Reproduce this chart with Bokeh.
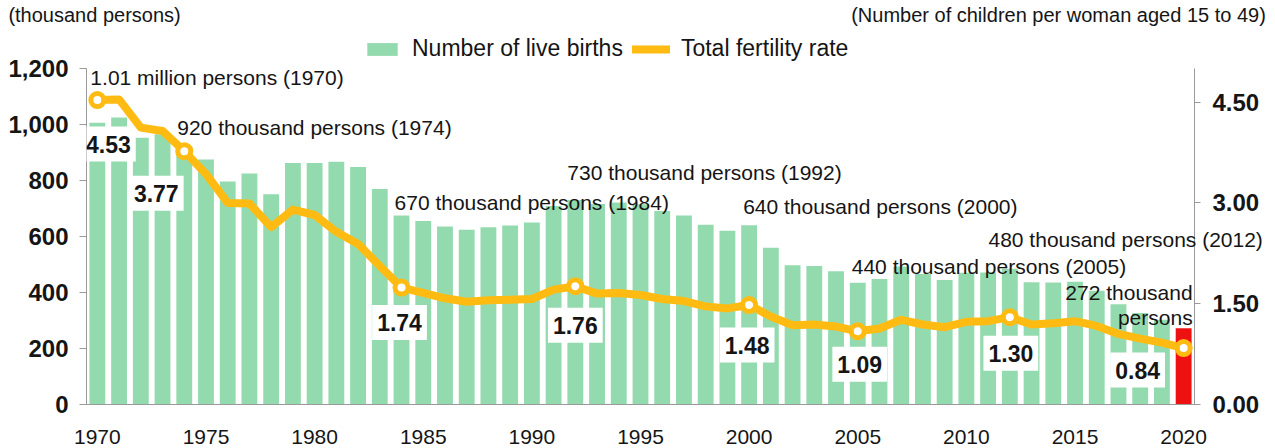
from bokeh.plotting import figure
from bokeh.models import (Range1d, LinearAxis, FixedTicker, NumeralTickFormatter,
                          Label, Legend, LegendItem, ColumnDataSource)
from bokeh.embed import file_html
from bokeh.resources import INLINE

# ---------------- data ----------------
years = list(range(1970, 2021))
births = [1006.6, 1024.8, 952.8, 965.5, 922.8, 874.9, 796.3, 825.3, 750.7, 862.7,
          862.8, 867.4, 848.3, 769.2, 674.8, 655.5, 636.0, 623.8, 633.1, 639.4,
          649.7, 709.3, 730.7, 715.8, 721.2, 715.0, 691.2, 675.4, 641.6, 620.7,
          640.1, 559.9, 496.9, 495.0, 476.0, 435.0, 448.2, 493.2, 465.9, 444.8,
          470.2, 471.3, 484.6, 436.5, 435.4, 438.4, 406.2, 357.8, 326.8, 302.7, 272.3]
tfr = [4.53, 4.54, 4.12, 4.07, 3.77, 3.43, 3.00, 2.99, 2.64, 2.90,
       2.82, 2.57, 2.39, 2.06, 1.74, 1.66, 1.58, 1.53, 1.55, 1.56,
       1.57, 1.71, 1.76, 1.65, 1.66, 1.63, 1.57, 1.54, 1.46, 1.43,
       1.48, 1.31, 1.18, 1.19, 1.16, 1.09, 1.13, 1.26, 1.19, 1.15,
       1.23, 1.24, 1.30, 1.19, 1.21, 1.24, 1.17, 1.05, 0.98, 0.92, 0.84]
highlight_years = [1970, 1974, 1984, 1992, 2000, 2005, 2012, 2020]
latest_year = 2020

left_max, right_max = 1200, 5
left_ticks = [0, 200, 400, 600, 800, 1000, 1200]
right_ticks = [0.0, 1.5, 3.0, 4.5]
x_ticks = list(range(1970, 2021, 5))

birth_notes = [
    ("1.01 million persons (1970)", 1970),
    ("920 thousand persons (1974)", 1974),
    ("670 thousand persons (1984)", 1984),
    ("730 thousand persons (1992)", 1992),
    ("640 thousand persons (2000)", 2000),
    ("440 thousand persons (2005)", 2005),
]
edge_note = "480 thousand persons (2012)"
left_title = "(thousand persons)"
right_title = "(Number of children per woman aged 15 to 49)"

# ---------------- styling / placement (not data) ----------------
GREEN = "#93DBAE"
RED = "#EE1111"
ORANGE = "#FFBB11"
TXT = "#151515"
AXC = "#9a9a9a"
FONT = "Liberation Sans"

FRAME_W, FRAME_H, AXIS_PX = 1108, 368, 336
head = FRAME_H / AXIS_PX            # frame reaches above the axes (room for legend)

# (x offset px, y in left-axis units)
note_pos = {1970: (-7, 1168), 1974: (-7, 989), 1984: (-7, 721), 1992: (-8, 829),
            2000: (-6, 707), 2005: (-6, 493)}
edge_note_y = 589
box_off = {1970: (11, -44), 1974: (-28, -42), 1984: (-2, -35), 1992: (0, -39),
           2000: (-2, -40), 2005: (2, -33), 2012: (1, -36), 2020: (-46, -22)}
title_x = (1969.87, 2014.24)        # centres of the two unit captions (x-scale)

p = figure(frame_width=FRAME_W, frame_height=FRAME_H, x_range=Range1d(1969.5, 2020.5),
           y_range=Range1d(0, left_max * head), output_backend="svg",
           toolbar_location=None, min_border_left=86, min_border_right=81,
           min_border_top=0, min_border_bottom=42)
p.extra_y_ranges = {"tfr": Range1d(0, right_max * head)}
p.outline_line_color = None
p.grid.visible = False
p.background_fill_color = "white"

# bars
normal = [(y, b) for y, b in zip(years, births) if y != latest_year]
last = [(y, b) for y, b in zip(years, births) if y == latest_year]
src_g = ColumnDataSource(dict(x=[a for a, _ in normal], top=[b for _, b in normal]))
src_r = ColumnDataSource(dict(x=[a for a, _ in last], top=[b for _, b in last]))
bars_g = p.vbar(x="x", top="top", width=0.73, source=src_g, fill_color=GREEN, line_color=None)
p.vbar(x="x", top="top", width=0.73, source=src_r, fill_color=RED, line_color=None)

# value boxes
for yr in highlight_years:
    i = years.index(yr)
    dx, dy = box_off[yr]
    p.add_layout(Label(x=yr, y=tfr[i], y_range_name="tfr", x_offset=dx, y_offset=dy,
                       text=f"{tfr[i]:.2f}", text_align="center", text_baseline="middle",
                       text_font=FONT, text_font_style="bold", text_font_size="23px",
                       text_color=TXT, background_fill_color="white",
                       padding=(5, 9)))

# TFR line
line_r = p.line(years, tfr, y_range_name="tfr", line_color=ORANGE, line_width=8,
                line_join="round", line_cap="round")
line_r.level = "overlay"
hx = highlight_years
hy = [tfr[years.index(y)] for y in hx]
mk = p.scatter(hx, hy, y_range_name="tfr", size=13, fill_color="white",
               line_color=ORANGE, line_width=5)
mk.level = "overlay"

# birth annotations
for text, yr in birth_notes:
    dx, yv = note_pos[yr]
    p.add_layout(Label(x=yr, y=yv, x_offset=dx, text=text, text_align="left",
                       text_baseline="middle", text_font=FONT, text_font_size="21px",
                       text_color=TXT))
i_last = years.index(latest_year)
p.add_layout(Label(x=latest_year, y=400, x_offset=9,
                   text=f"{int(round(births[i_last]))} thousand", text_align="right",
                   text_baseline="middle", text_font=FONT, text_font_size="21px",
                   text_color=TXT))
p.add_layout(Label(x=latest_year, y=312, x_offset=9, text="persons", text_align="right",
                   text_baseline="middle", text_font=FONT, text_font_size="21px",
                   text_color=TXT))

# axes
ya = p.yaxis[0]
ya.bounds = (0, left_max)
ya.ticker = FixedTicker(ticks=left_ticks)
ya.formatter = NumeralTickFormatter(format="0,0")
ya.major_label_text_font = FONT
ya.major_label_text_font_style = "bold"
ya.major_label_text_font_size = "24px"
ya.major_label_text_color = TXT
ya.axis_line_color = AXC
ya.major_tick_line_color = AXC
ya.major_tick_out = 7
ya.major_tick_in = 0
ya.minor_tick_line_color = None
ya.major_label_standoff = 11

ra = LinearAxis(y_range_name="tfr", ticker=FixedTicker(ticks=right_ticks),
                formatter=NumeralTickFormatter(format="0.00"), bounds=(0, right_max))
ra.major_label_text_font = FONT
ra.major_label_text_font_style = "bold"
ra.major_label_text_font_size = "24px"
ra.major_label_text_color = TXT
ra.axis_line_color = AXC
ra.major_tick_line_color = AXC
ra.major_tick_out = 6
ra.major_tick_in = 0
ra.minor_tick_line_color = None
ra.major_label_standoff = 12
p.add_layout(ra, "right")

# the 2012 note crosses the right frame edge: carried by a line-less axis
ea = LinearAxis(ticker=FixedTicker(ticks=[edge_note_y]),
                major_label_overrides={edge_note_y: edge_note})
ea.axis_line_color = None
ea.major_tick_line_color = None
ea.minor_tick_line_color = None
ea.major_tick_out = 0
ea.major_tick_in = 0
ea.major_label_standoff = -274
ea.major_label_text_font = FONT
ea.major_label_text_font_size = "21px"
ea.major_label_text_color = TXT
p.add_layout(ea, "right")

xa = p.xaxis[0]
xa.ticker = FixedTicker(ticks=x_ticks)
xa.major_label_text_font = FONT
xa.major_label_text_font_size = "21px"
xa.major_label_text_color = TXT
xa.axis_line_color = AXC
xa.major_tick_line_color = None
xa.minor_tick_line_color = None
xa.major_label_standoff = 19

# unit captions: line-less axis on top
ta = LinearAxis(ticker=FixedTicker(ticks=list(title_x)),
                major_label_overrides={title_x[0]: left_title, title_x[1]: right_title})
ta.axis_line_color = None
ta.major_tick_line_color = None
ta.minor_tick_line_color = None
ta.major_tick_out = 0
ta.major_tick_in = 0
ta.major_label_standoff = 11
ta.major_label_text_font = FONT
ta.major_label_text_font_size = "20px"
ta.major_label_text_color = TXT
p.add_layout(ta, "above")

# main legend, inside the (extended) frame
legend = Legend(items=[LegendItem(label="Number of live births", renderers=[bars_g]),
                       LegendItem(label="Total fertility rate", renderers=[line_r])],
                orientation="horizontal", location=(277, 342), glyph_width=38,
                glyph_height=16, label_text_font=FONT, label_text_font_size="23px",
                label_text_color=TXT, spacing=9, label_standoff=11, padding=0,
                margin=0, border_line_color=None, background_fill_alpha=0)
p.add_layout(legend)

open("out.html", "w").write(file_html(p, INLINE))
